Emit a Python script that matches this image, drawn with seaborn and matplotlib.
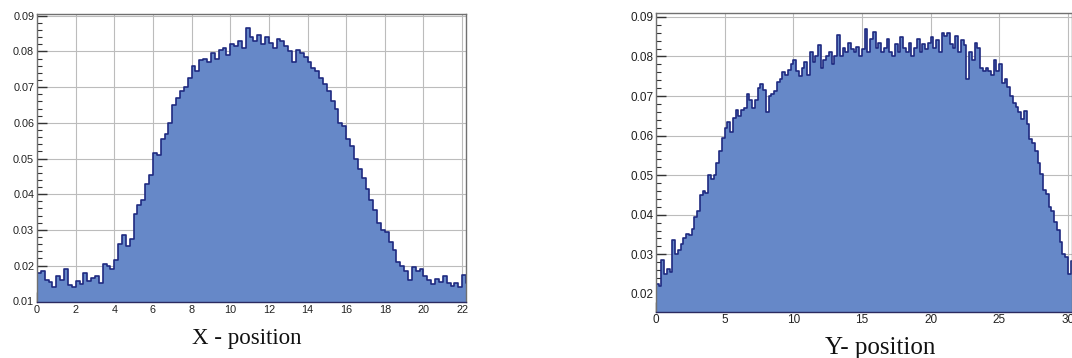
import numpy as np
import pandas as pd
import matplotlib
matplotlib.use("Agg")
import matplotlib.pyplot as plt
from matplotlib.ticker import MultipleLocator, FormatStrFormatter
import seaborn as sns

# ---------------- data ----------------
x_bin_width = 0.2
x_values = [
    0.0180, 0.0185, 0.0160, 0.0155, 0.0140, 0.0172, 0.0160, 0.0190, 0.0145, 0.0140,
    0.0158, 0.0148, 0.0180, 0.0158, 0.0165, 0.0170, 0.0150, 0.0205, 0.0200, 0.0190,
    0.0215, 0.0260, 0.0285, 0.0255, 0.0275, 0.0345, 0.0370, 0.0385, 0.0430, 0.0455,
    0.0515, 0.0510, 0.0555, 0.0570, 0.0600, 0.0650, 0.0670, 0.0690, 0.0700, 0.0725,
    0.0760, 0.0745, 0.0775, 0.0780, 0.0770, 0.0795, 0.0780, 0.0805, 0.0810, 0.0790,
    0.0820, 0.0815, 0.0830, 0.0810, 0.0865, 0.0840, 0.0830, 0.0845, 0.0820, 0.0840,
    0.0825, 0.0810, 0.0835, 0.0828, 0.0815, 0.0800, 0.0770, 0.0805, 0.0795, 0.0785,
    0.0770, 0.0755, 0.0745, 0.0725, 0.0710, 0.0690, 0.0660, 0.0640, 0.0600, 0.0590,
    0.0555, 0.0535, 0.0500, 0.0470, 0.0445, 0.0415, 0.0385, 0.0355, 0.0320, 0.0300,
    0.0295, 0.0265, 0.0245, 0.0210, 0.0200, 0.0185, 0.0160, 0.0195, 0.0185, 0.0190,
    0.0170, 0.0160, 0.0148, 0.0162, 0.0155, 0.0172, 0.0152, 0.0143, 0.0150, 0.0140,
    0.0175, 0.0150,
]

y_bin_width = 0.2
y_values = [
    0.0225, 0.0220, 0.0285, 0.0250, 0.0262, 0.0255, 0.0335, 0.0300, 0.0310, 0.0325,
    0.0340, 0.0352, 0.0350, 0.0365, 0.0395, 0.0410, 0.0450, 0.0460, 0.0455, 0.0500,
    0.0490, 0.0500, 0.0530, 0.0560, 0.0595, 0.0620, 0.0635, 0.0610, 0.0645, 0.0665,
    0.0650, 0.0665, 0.0670, 0.0705, 0.0690, 0.0670, 0.0690, 0.0720, 0.0730, 0.0715,
    0.0660, 0.0700, 0.0705, 0.0712, 0.0735, 0.0742, 0.0760, 0.0752, 0.0765, 0.0780,
    0.0790, 0.0762, 0.0750, 0.0770, 0.0785, 0.0752, 0.0810, 0.0785, 0.0800, 0.0830,
    0.0772, 0.0790, 0.0800, 0.0812, 0.0782, 0.0802, 0.0855, 0.0800, 0.0822, 0.0812,
    0.0835, 0.0820, 0.0812, 0.0825, 0.0802, 0.0820, 0.0870, 0.0810, 0.0845, 0.0862,
    0.0822, 0.0835, 0.0812, 0.0822, 0.0845, 0.0812, 0.0800, 0.0832, 0.0810, 0.0850,
    0.0822, 0.0810, 0.0835, 0.0800, 0.0822, 0.0845, 0.0812, 0.0832, 0.0820, 0.0835,
    0.0850, 0.0822, 0.0842, 0.0812, 0.0860, 0.0852, 0.0858, 0.0832, 0.0822, 0.0852,
    0.0812, 0.0842, 0.0830, 0.0742, 0.0812, 0.0792, 0.0835, 0.0822, 0.0770, 0.0762,
    0.0770, 0.0762, 0.0752, 0.0790, 0.0762, 0.0780, 0.0732, 0.0742, 0.0722, 0.0700,
    0.0682, 0.0672, 0.0660, 0.0642, 0.0662, 0.0630, 0.0592, 0.0582, 0.0560, 0.0532,
    0.0502, 0.0462, 0.0452, 0.0420, 0.0410, 0.0382, 0.0362, 0.0330, 0.0302, 0.0292,
    0.0250, 0.0282,
]

x_label = "X - position"
y_label = "Y- position"

# ---------------- style ----------------
sns.set_theme(style="white")
plt.rcParams['font.family'] = ['Liberation Sans', 'DejaVu Sans']

FILL = '#6688c8'
EDGE = '#1f2a80'
GRID = '#bcbcbc'
SPINE = '#707070'
TICKTXT = '#222222'

fig = plt.figure(figsize=(10.72, 3.58), dpi=100)
ax1 = fig.add_axes([37/1072, 1-302/358, (466-37)/1072, (302-14)/358])
ax2 = fig.add_axes([656/1072, 1-311.7/358, (1072-656)/1072, (311.7-13.3)/358])


def draw(ax, values, width, xlim, ylim, xmaj, xmin, label, lab_size, tick_size, label_xy):
    n = len(values)
    centers = (np.arange(n) + 0.5) * width
    df = pd.DataFrame({"pos": centers, "w": values})
    brange = (0.0, n * width)
    sns.histplot(data=df, x="pos", weights="w", bins=n, binrange=brange, element="step",
                 fill=True, color=FILL, alpha=1.0, linewidth=0, ax=ax, zorder=2)
    sns.histplot(data=df, x="pos", weights="w", bins=n, binrange=brange, element="step",
                 fill=False, color=EDGE, linewidth=1.2, ax=ax, zorder=3)
    ax.set_xlim(*xlim)
    ax.set_ylim(*ylim)
    ax.xaxis.set_major_locator(MultipleLocator(xmaj))
    ax.xaxis.set_minor_locator(MultipleLocator(xmin))
    ax.yaxis.set_major_locator(MultipleLocator(0.01))
    ax.yaxis.set_minor_locator(MultipleLocator(0.002))
    ax.yaxis.set_major_formatter(FormatStrFormatter('%.2f'))
    ax.xaxis.set_major_formatter(FormatStrFormatter('%d'))
    ax.grid(True, which='major', color=GRID, linewidth=0.8, zorder=0)
    ax.set_axisbelow(True)
    ax.tick_params(which='both', direction='in', colors='#333333',
                   labelsize=tick_size, labelcolor=TICKTXT,
                   top=False, right=False, bottom=True, left=True)
    ax.tick_params(which='major', length=7, width=1.0, pad=2)
    ax.tick_params(which='minor', length=3.5, width=0.8)
    for s in ax.spines.values():
        s.set_color(SPINE)
        s.set_linewidth(1.0)
        s.set_zorder(4)
    ax.spines['bottom'].set_color('#2a2a60')
    ax.set_ylabel("")
    ax.set_xlabel(label, fontsize=lab_size, family=['Liberation Serif', 'DejaVu Serif'],
                  color='#111111')
    ax.xaxis.set_label_coords(*label_xy)


draw(ax1, x_values, x_bin_width, (0, 22.2), (0.0098, 0.0905), 2, 0.5,
     x_label, 16.5, 7.8, (0.49, -0.09))
draw(ax2, y_values, y_bin_width, (0, 30.3), (0.0155, 0.0909), 5, 1,
     y_label, 18, 8.5, (0.54, -0.085))

fig.savefig("out.png", dpi=100)
